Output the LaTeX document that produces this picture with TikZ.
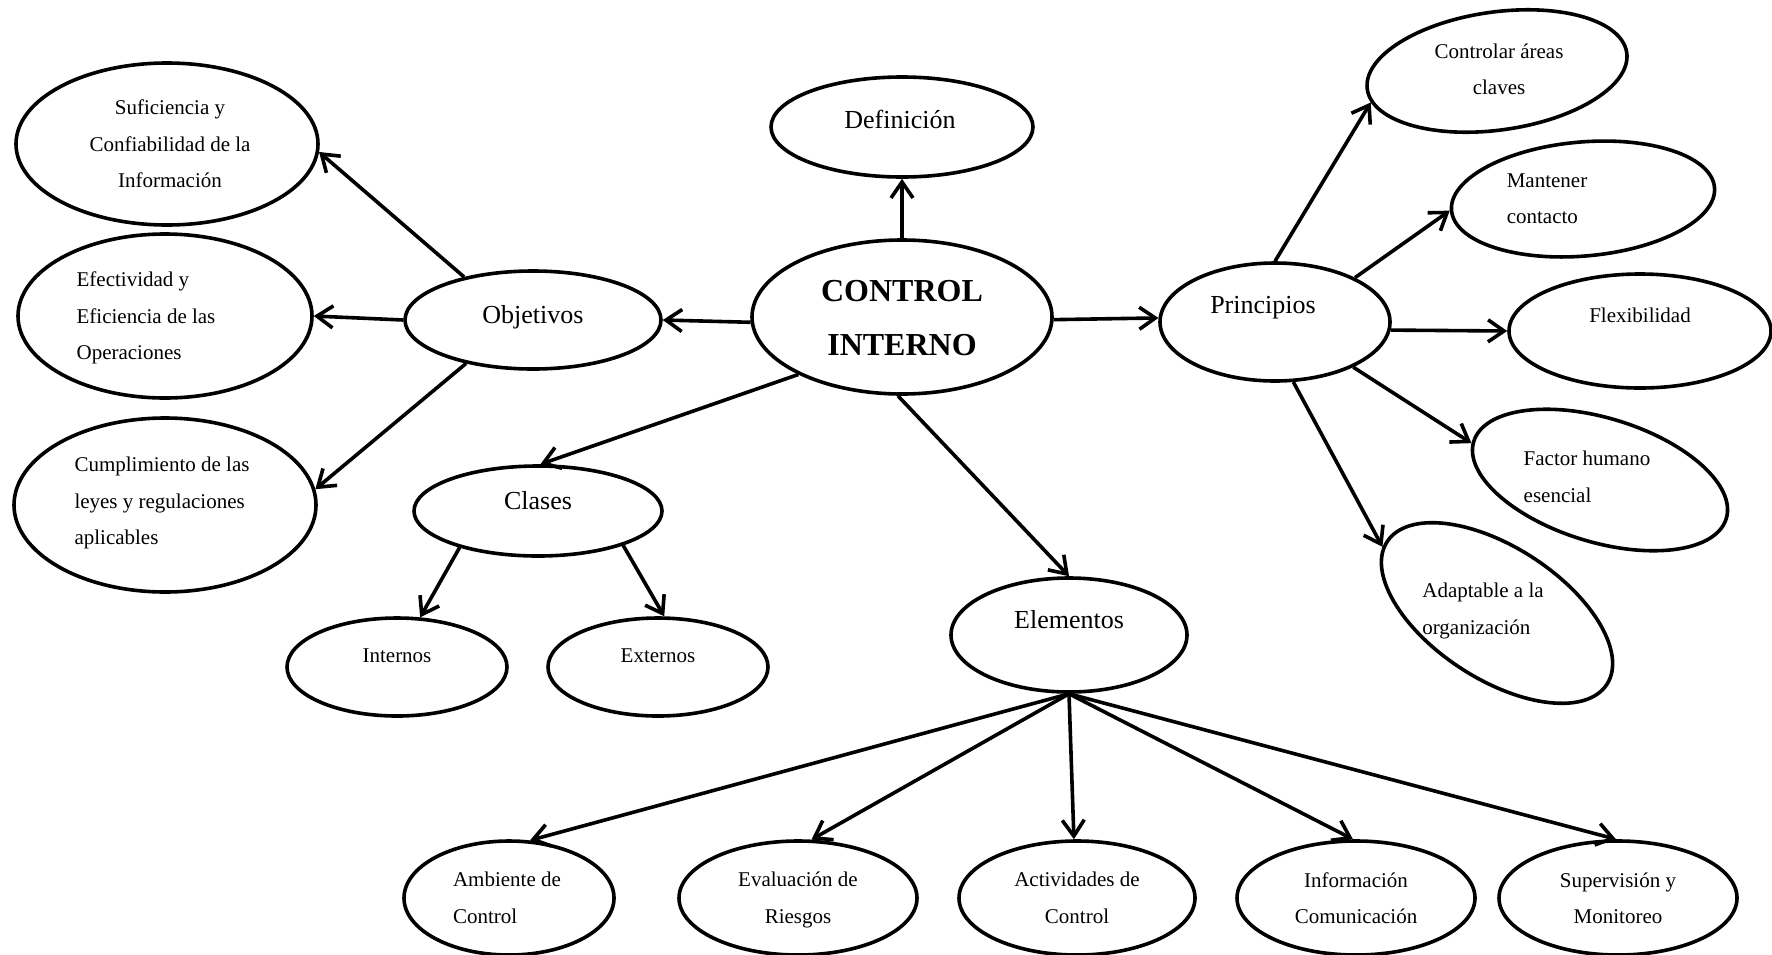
\documentclass[tikz,border=0pt]{standalone}
\usepackage{fontspec}
\setmainfont{Liberation Serif}
\usetikzlibrary{shapes.geometric,arrows.meta}
\tikzset{
  oval/.style={draw,ellipse,line width=1.8pt,inner sep=0pt},
  big/.style={font=\fontsize{13}{16}\selectfont,align=center,inner sep=1pt},
  small/.style={font=\fontsize{10.5}{18.2}\selectfont,align=center,inner sep=1pt},
  core/.style={font=\fontsize{16}{27}\selectfont\bfseries,align=center,inner sep=1pt},
  arr/.style={-{Straight Barb[length=8pt,width=11pt]},line width=1.8pt}
}

\begin{document}
\begin{tikzpicture}[x=0.5pt,y=-0.5pt]
  \useasboundingbox (0,0) rectangle (1772,954);
  % centre and first ring
  \node[oval,minimum width=150pt,minimum height=77pt] (ci) at (902,317) {};
  \node[oval,minimum width=131pt,minimum height=50pt] (def) at (902,127) {};
  \node[oval,minimum width=128pt,minimum height=49pt] (obj) at (533,320) {};
  \node[oval,minimum width=124pt,minimum height=45pt] (cla) at (538,511) {};
  \node[oval,minimum width=118pt,minimum height=57pt] (ele) at (1069,635) {};
  \node[oval,minimum width=115pt,minimum height=59pt] (pri) at (1275,322) {};
  % objetivos
  \node[oval,minimum width=151pt,minimum height=81pt] (suf) at (167,144) {};
  \node[oval,minimum width=147pt,minimum height=82pt] (efe) at (165,316) {};
  \node[oval,minimum width=151pt,minimum height=87pt] (cum) at (165,505) {};
  % clases
  \node[oval,minimum width=110pt,minimum height=49pt] (int) at (397,667) {};
  \node[oval,minimum width=110pt,minimum height=49pt] (ext) at (658,667) {};
  % principios
  \node[oval,minimum width=131pt,minimum height=59pt,rotate=8] (ctr) at (1497,71) {};
  \node[oval,minimum width=132pt,minimum height=57pt,rotate=5] (man) at (1583,199) {};
  \node[oval,minimum width=131pt,minimum height=57pt] (fle) at (1640,331) {};
  \node[oval,minimum width=132pt,minimum height=62pt,rotate=-17] (fac) at (1600,480) {};
  \node[oval,minimum width=131pt,minimum height=66pt,rotate=-33] (ada) at (1497,613) {};
  % elementos
  \node[oval,minimum width=105pt,minimum height=57pt] (amb) at (509,898) {};
  \node[oval,minimum width=119pt,minimum height=57pt] (eva) at (798,898) {};
  \node[oval,minimum width=118pt,minimum height=57pt] (act) at (1077,898) {};
  \node[oval,minimum width=119pt,minimum height=57pt] (inf) at (1356,898) {};
  \node[oval,minimum width=119pt,minimum height=57pt] (sup) at (1618,898) {};

  % texts
  \node[core] (ci-t) at (902,318) {CONTROL\\INTERNO};
  \node[big] (def-t) at (900,119) {Definición};
  \node[big] (obj-t) at (533,317) {Objetivos};
  \node[big] (cla-t) at (538,501) {Clases};
  \node[big] (ele-t) at (1069,620) {Elementos};
  \node[big] (pri-t) at (1263,308) {Principios};
  \node[small] (suf-t) at (170,144) {Suficiencia y\\Confiabilidad de la\\Información};
  \node[small,align=left] (efe-t) at (146,318) {Efectividad y\\Eficiencia de las\\Operaciones};
  \node[small,align=left] (cum-t) at (162,503) {Cumplimiento de las\\leyes y regulaciones\\aplicables};
  \node[small] (int-t) at (397,656) {Internos};
  \node[small] (ext-t) at (658,656) {Externos};
  \node[small] (ctr-t) at (1499,69) {Controlar áreas\\claves};
  \node[small,align=left] (man-t) at (1547,199) {Mantener\\contacto};
  \node[small] (fle-t) at (1640,315) {Flexibilidad};
  \node[small,align=left] (fac-t) at (1587,477) {Factor humano\\esencial};
  \node[small,align=left] (ada-t) at (1483,611) {Adaptable a la\\organización};
  \node[small,align=left] (amb-t) at (507,898) {Ambiente de\\Control};
  \node[small] (eva-t) at (798,900) {Evaluación de\\Riesgos};
  \node[small] (act-t) at (1077,898) {Actividades de\\Control};
  \node[small] (inf-t) at (1356,898) {Información\\Comunicación};
  \node[small] (sup-t) at (1618,898) {Supervisión y\\Monitoreo};

  % arrows
  \draw[arr] (ci.north) -- (def.south);
  \draw[arr] (ci.182) -- (obj.east);
  \draw[arr] (ci.-1) -- (pri.178);
  \draw[arr] (ci.209) -- (cla.87);
  \draw[arr] (ci.-93) -- (ele.north);
  \draw[arr] (obj.148) -- (suf.-3);
  \draw[arr] (obj.west) -- (efe.east);
  \draw[arr] (obj.213) -- (cum.6);
  \draw[arr] (cla.205) -- (int.65);
  \draw[arr] (cla.-22) -- (ext.83);
  \draw[arr] (pri.north) -- (ctr.186);
  \draw[arr] (pri.29) -- (man.west);
  \draw[arr] (pri.-4) -- (fle.west);
  \draw[arr] (pri.-30) -- (fac.181);
  \draw[arr] (pri.-73) -- (ada.183);
  \draw[arr] (ele.south) -- (amb.70);
  \draw[arr] (ele.south) -- (eva.77);
  \draw[arr] (ele.south) -- (act.93);
  \draw[arr] (ele.south) -- (inf.93);
  \draw[arr] (ele.south) -- (sup.92);
\end{tikzpicture}
\end{document}
